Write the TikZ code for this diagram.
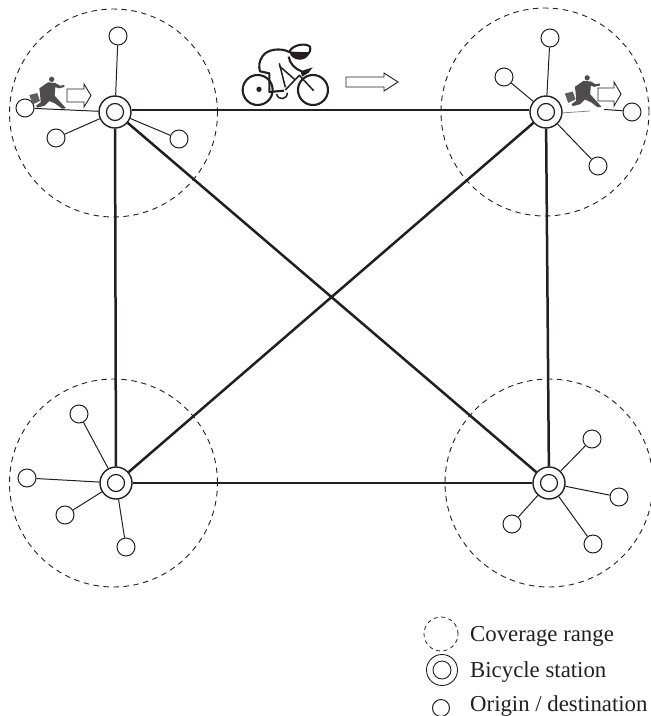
\documentclass[tikz,border=0pt]{standalone}
\usepackage{fontspec}
\setmainfont{Liberation Serif}
\definecolor{ink}{HTML}{231F20}
\tikzset{
  x=1pt,y=-1pt,
  cover/.style={circle,draw=ink,dash pattern=on 5.5pt off 4.5pt,line width=.9pt,minimum size=208pt,inner sep=0pt},
  stn/.style={circle,draw=ink,line width=1.4pt,minimum size=32pt,inner sep=0pt},
  stnin/.style={circle,draw=ink,line width=1.2pt,minimum size=17pt,inner sep=0pt},
  od/.style={circle,draw=ink,line width=1pt,minimum size=18pt,inner sep=0pt,fill=white},
  trunk/.style={draw=ink,line width=2.5pt},
  spoke/.style={draw=ink,line width=1pt},
  legtext/.style={anchor=base west,font=\fontsize{22.8}{26}\selectfont,text=ink,inner sep=0pt},
  blockarrow/.style={draw=ink,line width=.9pt,fill=white},
  runnerfill/.style={fill=ink!80!white,draw=none},
  bike/.style={draw=ink,line width=2.1pt,line join=round},
  bikethin/.style={draw=ink,line width=1.5pt,line join=round}
}
% runner silhouette, in 1/3 px units
\newcommand{\runner}{%
  \fill[ink!72!white] (28,90) -- (52,84) -- (60,108) -- (38,118) -- cycle;
  \fill[runnerfill] (95,43) circle (8);
  \fill[runnerfill] (84,52) -- (106,54) -- (120,62) -- (133,60) -- (133,66) -- (116,70) -- (106,66) -- (104,92) -- (122,112) -- (138,130) -- (126,131) -- (106,116) -- (88,108) -- (74,122) -- (52,128) -- (48,122) -- (62,112) -- (60,84) -- (58,70) -- cycle;
}
\begin{document}
\begin{tikzpicture}
\useasboundingbox (0,0) rectangle (651,716);
% coverage
\node[cover] (c1) at (113.5,113) {};
\node[cover] (c2) at (545,112) {};
\node[cover] (c3) at (113.5,483) {};
\node[cover] (c4) at (549,483) {};
% stations
\node[stn] (s1) at (115,112) {};
\node[stn] (s2) at (546,112) {};
\node[stn] (s3) at (116,483) {};
\node[stn] (s4) at (549,483) {};
\node[stnin] at (s1) {};
\node[stnin] at (s2) {};
\node[stnin] at (s3) {};
\node[stnin] at (s4) {};
% trunks
\draw[trunk] (s1.7) -- (s2.173);
\draw[trunk] (s1) -- (s3);
\draw[trunk] (s1) -- (s4);
\draw[trunk] (s2) -- (s3);
\draw[trunk] (s2) -- (s4);
\draw[trunk] (s3) -- (s4);
% o/d
\node[od] (a1) at (118,36) {};
\node[od] (a2) at (25,108) {};
\node[od] (a3) at (56,138) {};
\node[od] (a4) at (179,139) {};
\node[od] (b1) at (550,38) {};
\node[od] (b2) at (504,77) {};
\node[od] (b3) at (632,112) {};
\node[od] (b4) at (598,166) {};
\node[od] (d1) at (79,414) {};
\node[od] (d2) at (27,478) {};
\node[od] (d3) at (65,515) {};
\node[od] (d4) at (126,547) {};
\node[od] (e1) at (592,439) {};
\node[od] (e2) at (619,497) {};
\node[od] (e3) at (593,544) {};
\node[od] (e4) at (512,524) {};
\foreach \o/\s in {a1/s1,a2/s1,a3/s1,a4/s1,b1/s2,b2/s2,b4/s2,d1/s3,d2/s3,d3/s3,d4/s3,e1/s4,e2/s4,e3/s4,e4/s4}
  \draw[spoke] (\o) -- (\s);
% broken spoke behind the right runner
\coordinate (g1) at (590,111);
\coordinate (g2) at (604,109.5);
\draw[draw=ink!60!white,line width=.7pt] (s2.-3) -- (g1);
\draw[spoke] (g2) -- (b3.172);
% runners
\begin{scope}[shift={(20,65)},x=.3333pt,y=-.3333pt]\runner\end{scope}
\begin{scope}[shift={(555.5,63.5)},x=.3333pt,y=-.3333pt]\runner\end{scope}
% small block arrows
\draw[blockarrow] (67,89) -- (84,89) -- (84,84) -- (91,95.5) -- (84,107) -- (84,102) -- (67,102) -- cycle;
\draw[blockarrow] (598,88) -- (614,88) -- (614,82) -- (621,94) -- (614,106) -- (614,101) -- (598,101) -- cycle;
% cyclist (1/3 px units)
\begin{scope}[shift={(230,30)},x=.3333pt,y=-.3333pt]
\draw[bike] (83,180) circle (15pt);
\draw[bike] (249,180) circle (15pt);
\fill[ink] (87,178) circle (8);
\fill[ink] (249,180) circle (3.5);
% back and seat
\draw[bike] (178,66) .. controls (150,52) and (112,58) .. (98,78) .. controls (86,95) and (86,110) .. (90,124) -- (118,130) -- (118,186) -- (162,182);
% torso inner and leg
\draw[bikethin] (148,100) -- (166,172);
\draw[bikethin] (148,108) -- (196,150);
% frame
\draw[bikethin] (166,180) -- (208,136) -- (249,180);
% crank
\draw[bikethin] (140,192) .. controls (144,212) and (172,210) .. (172,188);
% helmet
\draw[bike] (180,62) .. controls (190,44) and (228,38) .. (240,50) .. controls (242,60) and (240,68) .. (236,70) -- (180,68) -- cycle;
\fill[ink] (180,68) -- (238,70) .. controls (232,90) and (200,98) .. (182,76) -- cycle;
% arm
\draw[bike] (176,80) .. controls (180,100) and (192,116) .. (216,124);
% handlebar
\fill[ink] (212,124) -- (248,112) -- (236,128) -- (216,140) -- cycle;
\end{scope}
\draw[blockarrow] (346,77) -- (384,77) -- (384,73) -- (398,82) -- (384,91) -- (384,87) -- (346,87) -- cycle;
% legend
\node[circle,draw=ink,dash pattern=on 4pt off 3.5pt,line width=.8pt,minimum size=34pt,inner sep=0pt] (l1) at (441,634) {};
\node[stn,line width=.9pt,minimum size=31pt] (l2) at (442,670) {};
\node[stnin,line width=.9pt,minimum size=18pt] at (l2) {};
\node[od,minimum size=17pt] (l3) at (441,708) {};
\node[legtext] (t1) at (470,641) {Coverage range};
\node[legtext] (t2) at (470,677) {Bicycle station};
\node[legtext] (t3) at (470,711) {Origin / destination};
\end{tikzpicture}
\end{document}
